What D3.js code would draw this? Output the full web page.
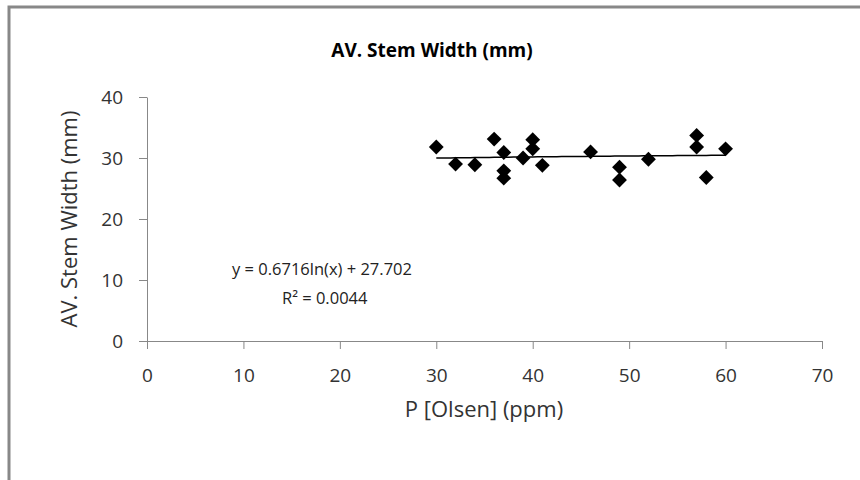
<!DOCTYPE html>
<html><head><meta charset="utf-8">
<script src="https://cdn.jsdelivr.net/npm/d3@7"></script>
<style>body{margin:0;background:#fff}svg{display:block}text{font-family:"Open Sans",sans-serif}</style>
</head><body>
<script>
const pValues = [30,32,34,36,37,37,37,39,40,40,41,46,49,49,52,57,57,58,60];
const stemWidth = [31.8,29,28.9,33.1,30.9,27.9,26.7,30,33,31.5,28.8,31,28.5,26.4,29.8,33.7,31.8,26.8,31.5];
const xTicks = [0,10,20,30,40,50,60,70];
const yTicks = [0,10,20,30,40];
const trendCoef = {a:0.6716, b:27.702};
const titleText = "AV. Stem Width (mm)";
const xTitle = "P [Olsen] (ppm)";
const yTitle = "AV. Stem Width (mm)";
const eqLines = ["y = 0.6716ln(x) + 27.702", "R² = 0.0044"];

const W=860,H=480;
const svg=d3.select("body").append("svg").attr("width",W).attr("height",H);
svg.append("rect").attr("x",9).attr("y",7).attr("width",900).attr("height",600)
  .attr("fill","none").attr("stroke","#888").attr("stroke-width",3);

const x=d3.scaleLinear().domain([0,70]).range([147,822]);
const y=d3.scaleLinear().domain([0,40]).range([341,97]);

const gx=svg.append("g").attr("transform",`translate(0,${y(0)})`)
  .call(d3.axisBottom(x).tickValues(xTicks).tickSize(8).tickPadding(20).tickSizeOuter(0));
const gy=svg.append("g").attr("transform",`translate(${x(0)},0)`)
  .call(d3.axisLeft(y).tickValues(yTicks).tickSize(8).tickPadding(16).tickSizeOuter(0));
[gx,gy].forEach(g=>{
  g.selectAll("path,line").attr("stroke","#888");
  g.selectAll("text").attr("font-size",19).attr("fill","#333").attr("font-family","'Open Sans',sans-serif");
});

// trendline
const xs=d3.range(d3.min(pValues),d3.max(pValues)+0.001,0.5);
svg.append("path").datum(xs)
  .attr("d",d3.line().x(d=>x(d)).y(d=>y(trendCoef.a*Math.log(d)+trendCoef.b)))
  .attr("fill","none").attr("stroke","#000").attr("stroke-width",1.5);

// points
const sym=d3.symbol().type(d3.symbolSquare).size(110);
svg.append("g").selectAll("path").data(pValues.map((v,i)=>[v,stemWidth[i]])).join("path")
  .attr("d",sym).attr("fill","#000")
  .attr("transform",d=>`translate(${x(d[0])},${y(d[1])}) rotate(45)`);

svg.append("text").attr("x",432).attr("y",57).attr("text-anchor","middle")
  .attr("font-size",19).attr("font-weight","bold").attr("fill","#000").text(titleText);
svg.append("text").attr("x",484).attr("y",417).attr("text-anchor","middle")
  .attr("font-size",22).attr("fill","#333").text(xTitle);
svg.append("text").attr("transform",`translate(77,${(y(0)+y(40))/2}) rotate(-90)`)
  .attr("text-anchor","middle").attr("font-size",22).attr("fill","#333").text(yTitle);
svg.append("text").attr("x",232).attr("y",275).attr("font-size",16.5).attr("fill","#222").text(eqLines[0]);
svg.append("text").attr("x",282).attr("y",304).attr("font-size",16.5).attr("fill","#222").text(eqLines[1]);
</script>
</body></html>
